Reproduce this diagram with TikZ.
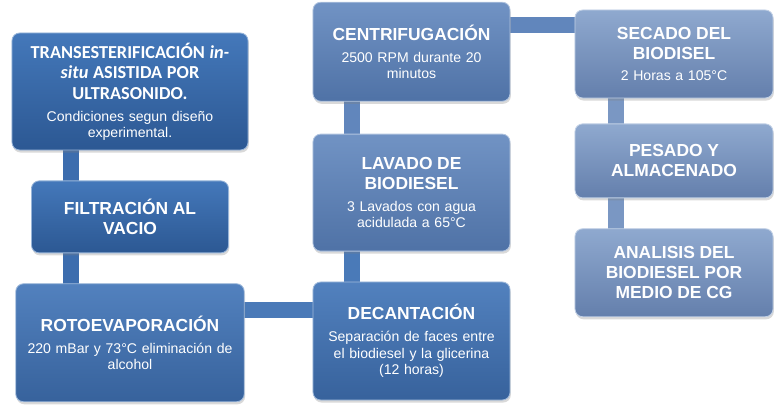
\documentclass[tikz,border=0pt]{standalone}
\usepackage{fontspec}
\setmainfont{Liberation Sans}
\newfontfamily\calibri{Carlito}
\usetikzlibrary{positioning,shadows,backgrounds}

\definecolor{stepAtop}{HTML}{4478BA}
\definecolor{stepAbot}{HTML}{2C5893}
\definecolor{stepBtop}{HTML}{5281BE}
\definecolor{stepBbot}{HTML}{37629C}
\definecolor{stepCtop}{HTML}{7193C4}
\definecolor{stepCbot}{HTML}{4F72A6}
\definecolor{stepDtop}{HTML}{8FA9CF}
\definecolor{stepDbot}{HTML}{647FAC}
\definecolor{linkA}{HTML}{3C6DAE}
\definecolor{linkB}{HTML}{4A7AB8}
\definecolor{linkC}{HTML}{6186BC}
\definecolor{linkD}{HTML}{7A97C3}

\newcommand{\ttl}[1]{{\bfseries\fontsize{12.4}{14.2}\selectfont #1\par}}
\newcommand{\bdy}[1]{{\fontsize{10}{11.6}\selectfont #1\par}}

\begin{document}
\begin{tikzpicture}[x=0.025cm, y=-0.025cm, node distance=0.75cm,
    stage/.style={rounded corners=5.5pt, draw=white!45!#1top, line width=0.6pt,
        top color=#1top, bottom color=#1bot, text=white, align=center,
        inner sep=3pt, drop shadow={opacity=0.3, shadow xshift=0.6pt, shadow yshift=-1.8pt}},
    link/.style={line width=0.42cm, draw=#1}]
    \useasboundingbox (0,0) rectangle (783,418);

        % Place nodes
        \node[stage=stepA, minimum width=5.9cm, minimum height=2.925cm, text width=5.6cm] (trans) at (130,91.5)
            {{\calibri\bfseries\fontsize{13}{14.6}\selectfont TRANSESTERIFICACIÓN \textit{in-}\\ \textit{situ} ASISTIDA POR\\ ULTRASONIDO.\par}\vspace{4pt}\bdy{Condiciones segun diseño\\ experimental.}};
        \node[stage=stepA, minimum width=4.925cm, minimum height=1.8cm, text width=4.6cm] (filtr) [below=of trans]
            {\ttl{FILTRACIÓN AL\\ VACIO}};
        \node[stage=stepB, minimum width=5.675cm, minimum height=2.95cm, text width=5.5cm] (roto) [below=of filtr]
            {\ttl{ROTOEVAPORACIÓN}\vspace{4pt}\bdy{220 mBar y 73°C eliminación de\\ alcohol}};
        \node[stage=stepB, minimum width=4.925cm, minimum height=2.95cm, text width=4.7cm] (decant) at (411.5,341)
            {\ttl{DECANTACIÓN}\vspace{4pt}\bdy{Separación de faces entre\\ el biodiesel y la glicerina\\ (12 horas)}};
        \node[stage=stepC, minimum width=4.925cm, minimum height=2.925cm, text width=4.7cm] (lavado) [above=of decant]
            {\ttl{LAVADO DE\\ BIODIESEL}\vspace{4pt}\bdy{3 Lavados con agua\\ acidulada a 65°C}};
        \node[stage=stepC, minimum width=4.925cm, minimum height=2.475cm, text width=4.7cm] (centri) [above=0.8cm of lavado]
            {\ttl{CENTRIFUGACIÓN}\vspace{4pt}\bdy{2500 RPM durante 20\\ minutos}};
        \node[stage=stepD, minimum width=4.95cm, minimum height=2.2cm, text width=4.7cm] (secado) at (674,54)
            {\ttl{SECADO DEL\\ BIODISEL}\vspace{4pt}\bdy{2 Horas a 105°C}};
        \node[stage=stepD, minimum width=4.95cm, minimum height=1.85cm, text width=4.7cm] (pesado) [below=0.625cm of secado]
            {\ttl{PESADO Y\\ ALMACENADO}};
        \node[stage=stepD, minimum width=4.95cm, minimum height=2.2cm, text width=4.7cm] (analisis) [below=of pesado]
            {\ttl{ANALISIS DEL\\ BIODIESEL POR\\ MEDIO DE CG}};

        % Link rails
        \coordinate (railA) at (71,0);
        \coordinate (railB) at (352,310);
        \coordinate (railC) at (616,25);

        % Draw links
        \begin{pgfonlayer}{background}
        \draw[link=linkA] (trans -| railA) -- (filtr -| railA);
        \draw[link=linkA] (filtr -| railA) -- (roto -| railA);
        \draw[link=linkB] (roto |- railB) -- (decant |- railB);
        \draw[link=linkB] (decant -| railB) -- (lavado -| railB);
        \draw[link=linkC] (lavado -| railB) -- (centri -| railB);
        \draw[link=linkC] (centri |- railC) -- (secado |- railC);
        \draw[link=linkD] (secado -| railC) -- (pesado -| railC);
        \draw[link=linkD] (pesado -| railC) -- (analisis -| railC);
        \end{pgfonlayer}
    \end{tikzpicture}
\end{document}
